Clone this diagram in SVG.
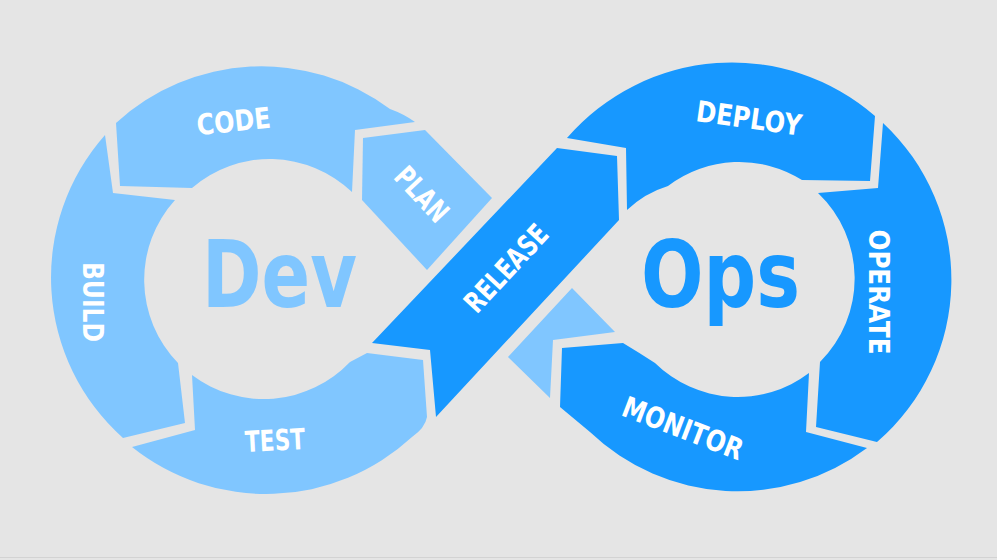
<svg xmlns="http://www.w3.org/2000/svg" width="997" height="560" viewBox="0 0 997 560">
<style>
.light{fill:#80c6ff}
.dark{fill:#1798ff}
.lbl{font-family:'DejaVu Sans Condensed','DejaVu Sans','Liberation Sans',sans-serif;font-stretch:condensed;font-weight:700;font-size:29px;fill:#ffffff}
.big{font-family:'DejaVu Sans Condensed','DejaVu Sans','Liberation Sans',sans-serif;font-stretch:condensed;font-weight:700;font-size:92px}
</style>
<rect x="0" y="0" width="997" height="560" fill="#e5e5e5"/>
<line x1="0" y1="557.5" x2="997" y2="557.5" stroke="#d3d3d3" stroke-width="1"/>

<g id="plan">
  <path class="light" d="M363,138 L425,130 L492,198 L427,270 L362,200 Z"/>
  <path class="light" d="M572,288 L615,332 L553,340 L550,398 L508,357 Z"/>
  <text class="lbl" transform="translate(422,194) rotate(47)" x="0" y="10.5" text-anchor="middle" textLength="64" lengthAdjust="spacingAndGlyphs">PLAN</text>
</g>
<g id="code">
  <path class="light" d="M415,122 L355,130 L352,192 A119,119 0 0 0 192,188 L120,186 L116,123 A215,215 0 0 1 390,109 Q404,114 415,122 Z"/>
  <text class="lbl" transform="translate(233.5,121) rotate(-6)" x="0" y="10.5" text-anchor="middle" textLength="74" lengthAdjust="spacingAndGlyphs">CODE</text>
</g>
<g id="build">
  <path class="light" d="M105,135 L113,193 L175,200 A119,119 0 0 0 178,363 L185,423 L123,438 A215,215 0 0 1 105,135 Z"/>
  <text class="lbl" transform="translate(93,302) rotate(90)" x="0" y="10.5" text-anchor="middle" textLength="80" lengthAdjust="spacingAndGlyphs">BUILD</text>
</g>
<g id="test">
  <path class="light" d="M132,447 L195,430 L192,375 A119,119 0 0 0 350,362 L367,353 L423,360 L427,417 Q425,428 412,437 A215,215 0 0 1 132,447 Z"/>
  <text class="lbl" transform="translate(275,440) rotate(-3)" x="0" y="10.5" text-anchor="middle" textLength="60" lengthAdjust="spacingAndGlyphs">TEST</text>
</g>
<g id="release">
  <path class="dark" d="M372,343 L557,148 L617,156 L619,220 L436,417 L430,350 Z"/>
  <text class="lbl" transform="translate(506,268) rotate(-47)" x="0" y="10.5" text-anchor="middle" textLength="108" lengthAdjust="spacingAndGlyphs">RELEASE</text>
</g>
<g id="deploy">
  <path class="dark" d="M567,138 L626,148 L627,210 Q645,193 668,186 A118,118 0 0 1 802,180 L870,181 L875,116 A218,218 0 0 0 567,138 Z"/>
  <text class="lbl" transform="translate(749,118) rotate(8)" x="0" y="10.5" text-anchor="middle" textLength="106" lengthAdjust="spacingAndGlyphs">DEPLOY</text>
</g>
<g id="operate">
  <path class="dark" d="M883,123 L878,188 L818,193 A118,118 0 0 1 820,362 L816,427 L877,442 A214,214 0 0 0 883,123 Z"/>
  <text class="lbl" transform="translate(879,292) rotate(90)" x="0" y="10.5" text-anchor="middle" textLength="125" lengthAdjust="spacingAndGlyphs">OPERATE</text>
</g>
<g id="monitor">
  <path class="dark" d="M809,373 L806,432 L867,448 A214,214 0 0 1 590,432 L560,407 L562,348 L623,343 Q638,352 655,363 A118,118 0 0 0 809,373 Z"/>
  <text class="lbl" transform="translate(683,428) rotate(21)" x="0" y="10.5" text-anchor="middle" textLength="127" lengthAdjust="spacingAndGlyphs">MONITOR</text>
</g>
<g id="dev">
  <text class="big" x="202" y="307" fill="#80c6ff" textLength="155" lengthAdjust="spacingAndGlyphs">Dev</text>
</g>
<g id="ops">
  <text class="big" x="641" y="307" fill="#1798ff" textLength="159" lengthAdjust="spacingAndGlyphs">Ops</text>
</g>
<g id="connectors"></g>
</svg>
